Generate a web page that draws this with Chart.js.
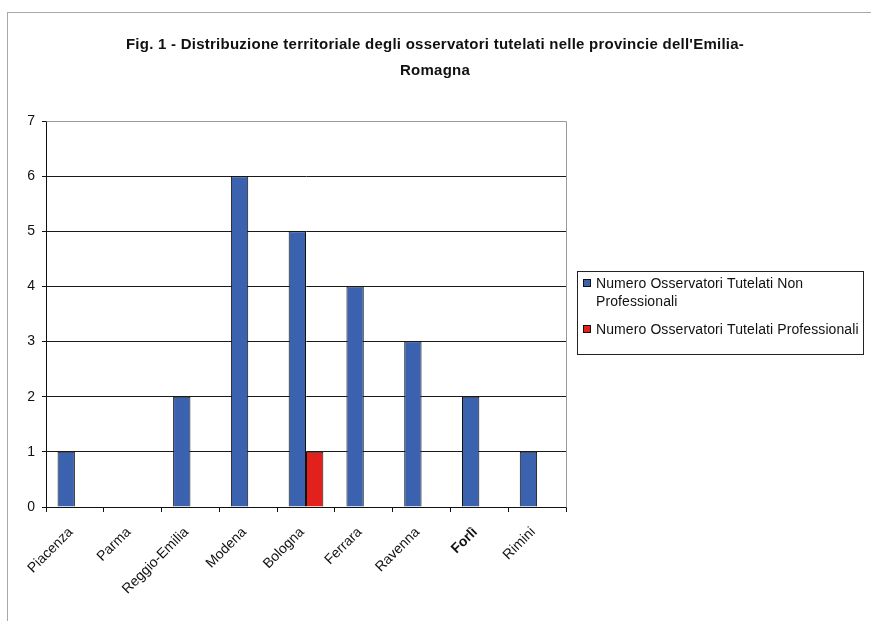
<!DOCTYPE html>
<html lang="it">
<head>
<meta charset="utf-8">
<title>Osservatori tutelati - Emilia-Romagna</title>
<script src="https://cdn.jsdelivr.net/npm/chart.js@4.4.1/dist/chart.umd.min.js"></script>
<style>
  html, body { margin: 0; padding: 0; background: #fff; overflow: hidden; }
  .frame { position: absolute; left: 7px; top: 12px; width: 900px; height: 700px; border-left: 1px solid #a8a8a8; border-top: 1px solid #a8a8a8; }
  .wrap { position: absolute; left: 0; top: 0; width: 871px; height: 621px; }
</style>
</head>
<body>
<div class="frame"></div>
<div class="wrap"><canvas id="chart" width="871" height="621"></canvas></div>
<script>
// Province dell'Emilia-Romagna e conteggi degli osservatori
const province = ["Piacenza", "Parma", "Reggio-Emilia", "Modena", "Bologna", "Ferrara", "Ravenna", "Forlì", "Rimini"];
const nonProfessionali = [1, 0, 2, 6, 5, 4, 3, 2, 1];
const professionali = [0, 0, 0, 0, 1, 0, 0, 0, 0];
const yTicks = [0, 1, 2, 3, 4, 5, 6, 7];

const titolo = ["Fig. 1 - Distribuzione territoriale degli osservatori tutelati nelle provincie dell'Emilia-", "Romagna"];
const serieLabels = [["Numero Osservatori Tutelati Non", "Professionali"], ["Numero Osservatori Tutelati Professionali"]];

const FONT = "'Liberation Sans', Arial, sans-serif";
const BLUE = "#3a62ae";
const RED = "#e2211c";

// titolo a due righe, centrato sull'area del grafico originale
const titlePlugin = {
  id: "titoloFig",
  afterDraw(chart) {
    const ctx = chart.ctx;
    ctx.save();
    ctx.font = `bold 15px ${FONT}`;
    ctx.fillStyle = "#111";
    ctx.textAlign = "center";
    ctx.textBaseline = "middle";
    ctx.letterSpacing = "0.25px";
    ctx.fillText(titolo[0], 435, 45);
    ctx.fillText(titolo[1], 435, 71);
    ctx.restore();
  }
};

// bordo grigio dell'area di disegno (alto e destra)
const plotBorder = {
  id: "plotBorder",
  beforeDatasetsDraw(chart) {
    const { ctx, chartArea: a } = chart;
    ctx.save();
    ctx.strokeStyle = "#9a9a9a";
    ctx.lineWidth = 1;
    ctx.beginPath();
    ctx.moveTo(Math.round(a.left) + 0.5, Math.round(a.top) + 0.5);
    ctx.lineTo(Math.round(a.right) + 0.5, Math.round(a.top) + 0.5);
    ctx.lineTo(Math.round(a.right) + 0.5, Math.round(a.bottom) + 0.5);
    ctx.stroke();
    ctx.restore();
  }
};

// legenda riquadrata con testo su più righe
const boxLegend = {
  id: "boxLegend",
  afterDraw(chart) {
    const ctx = chart.ctx;
    const x = 577, y = 271, w = 286, h = 83;
    ctx.save();
    ctx.strokeStyle = "#222";
    ctx.lineWidth = 1;
    ctx.strokeRect(x + 0.5, y + 0.5, w, h);
    ctx.font = `14px ${FONT}`;
    ctx.letterSpacing = "0.1px";
    ctx.textBaseline = "middle";
    const rows = [283, 329];
    chart.data.datasets.forEach((ds, i) => {
      const cy = rows[i];
      ctx.fillStyle = ds.backgroundColor;
      ctx.fillRect(584, cy - 3, 6, 6);
      ctx.strokeStyle = "#111";
      ctx.strokeRect(583.5, cy - 3.5, 7, 7);
      ctx.fillStyle = "#111";
      serieLabels[i].forEach((line, k) => ctx.fillText(line, 596, cy + 1 + k * 18));
    });
    ctx.restore();
  }
};

new Chart(document.getElementById("chart"), {
  type: "bar",
  data: {
    labels: province,
    datasets: [
      { label: serieLabels[0].join(" "), data: nonProfessionali, backgroundColor: BLUE, borderColor: "#111", borderWidth: 1 },
      { label: serieLabels[1].join(" "), data: professionali, backgroundColor: RED, borderColor: "#111", borderWidth: 1 }
    ]
  },
  options: {
    responsive: false,
    animation: false,
    categoryPercentage: 0.6,
    barPercentage: 1,
    layout: { padding: { left: 0, top: 121, right: 305, bottom: 0 } },
    plugins: {
      legend: { display: false },
      title: { display: false },
      tooltip: { enabled: false }
    },
    scales: {
      x: {
        afterFit: (scale) => { scale.height = 114; },
        grid: { drawOnChartArea: false, drawTicks: true, tickLength: 5, color: "#111" },
        border: { color: "#111", width: 1 },
        ticks: {
          minRotation: 45,
          maxRotation: 45,
          padding: 12,
          labelOffset: -4,
          color: "#111",
          font: (c) => ({ family: FONT, size: 14, weight: province[c.index] === "Forlì" ? "bold" : "normal" })
        }
      },
      y: {
        min: 0,
        max: 7,
        afterFit: (scale) => { scale.width = 46; },
        afterBuildTicks: (scale) => { scale.ticks = yTicks.map((v) => ({ value: v })); },
        grid: {
          color: (c) => (c.tick && c.tick.value === 7 ? "#9a9a9a" : "#1a1a1a"),
          tickLength: 4,
          tickColor: "#111"
        },
        border: { color: "#111", width: 1 },
        ticks: { padding: 7, color: "#111", font: { family: FONT, size: 14 } }
      }
    }
  },
  plugins: [plotBorder, titlePlugin, boxLegend]
});
</script>
</body>
</html>
